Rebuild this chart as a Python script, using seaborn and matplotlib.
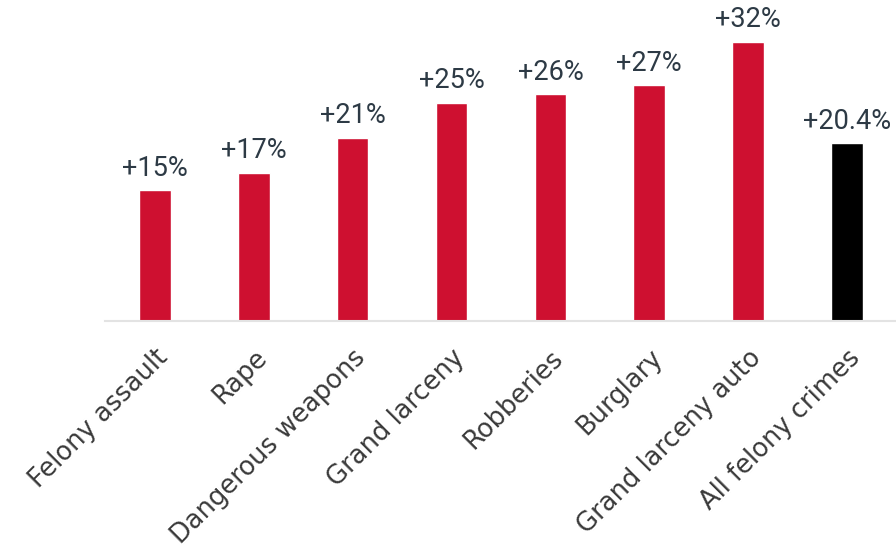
import matplotlib
matplotlib.use("Agg")
import matplotlib.pyplot as plt
import seaborn as sns
import pandas as pd

categories = ["Felony assault", "Rape", "Dangerous weapons", "Grand larceny",
              "Robberies", "Burglary", "Grand larceny auto", "All felony crimes"]
changes = [15, 17, 21, 25, 26, 27, 32, 20.4]
value_labels = ["+15%", "+17%", "+21%", "+25%", "+26%", "+27%", "+32%", "+20.4%"]
bar_colors = ["#CE1030"] * 7 + ["#000000"]

VALUE_TEXT = "#2D3A45"
TICK_TEXT = "#3A3A3A"


def main():
    sns.set_theme(style="white")
    plt.rcParams["font.family"] = ["DejaVu Sans"]

    df = pd.DataFrame({"crime": categories, "change": changes})

    fig = plt.figure(figsize=(8.96, 5.48), dpi=100)
    ax = fig.add_axes([0.1177, 0.4142, 0.8828, 0.5858])
    sns.barplot(data=df, x="crime", y="change", hue="crime",
                palette=bar_colors, legend=False, width=0.32,
                saturation=1, ax=ax)

    for cont, lab in zip(ax.containers, value_labels):
        ax.bar_label(cont, labels=[lab], padding=6, fontsize=19.5,
                     color=VALUE_TEXT, family=["Roboto", "DejaVu Sans"])

    ax.set_xlim(-0.5, 7.5)
    ax.set_ylim(0, 36.77)
    ax.set_xlabel("")
    ax.set_ylabel("")
    ax.set_yticks([])
    for side in ["top", "right", "left"]:
        ax.spines[side].set_visible(False)
    ax.spines["bottom"].set_color("#E3E3E3")
    ax.spines["bottom"].set_linewidth(1.5)
    ax.tick_params(axis="x", length=0, pad=17)
    plt.setp(ax.get_xticklabels(), rotation=45, ha="right",
             rotation_mode="anchor", fontsize=18.5, color=TICK_TEXT)

    fig.savefig("out.png", dpi=100)


if __name__ == "__main__":
    main()
